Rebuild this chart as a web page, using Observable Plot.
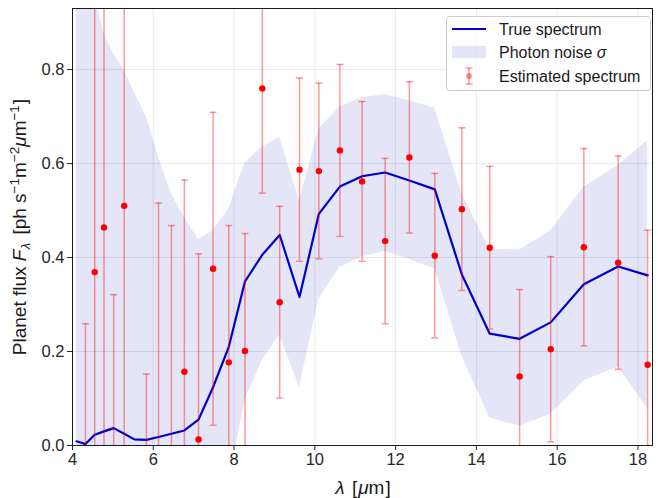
<!DOCTYPE html>
<html><head><meta charset="utf-8">
<script src="https://cdn.jsdelivr.net/npm/d3@7"></script>
<script src="https://cdn.jsdelivr.net/npm/@observablehq/plot@0.6"></script>
<style>body{margin:0;background:#fff}</style>
</head><body><div id="chart"></div>
<script>
// True spectrum and photon-noise band (wavelength grid in µm)
const wavelength = [4.10,4.32,4.55,4.78,5.02,5.28,5.53,5.83,6.13,6.45,6.77,7.12,7.48,7.87,8.27,8.70,9.13,9.62,10.10,10.62,11.17,11.74,12.34,12.97,13.64,14.33,15.07,15.84,16.66,17.51,18.24];
const trueFlux   = [0.009,0.003,0.023,0.030,0.037,0.025,0.013,0.012,0.018,0.025,0.032,0.055,0.124,0.210,0.349,0.406,0.448,0.316,0.493,0.551,0.573,0.581,0.564,0.545,0.364,0.238,0.227,0.262,0.343,0.381,0.362];
const noiseHigh  = [1.10,1.05,0.96,0.876,0.833,0.798,0.752,0.699,0.614,0.535,0.486,0.438,0.457,0.504,0.601,0.635,0.656,0.521,0.674,0.721,0.740,0.747,0.733,0.718,0.535,0.418,0.416,0.457,0.550,0.596,0.649];
const noiseLow   = [-1.08,-1.04,-0.91,-0.82,-0.76,-0.75,-0.73,-0.68,-0.58,-0.49,-0.43,-0.33,-0.21,-0.08,0.097,0.181,0.235,0.124,0.312,0.379,0.401,0.413,0.396,0.376,0.190,0.059,0.041,0.067,0.138,0.167,0.078];

// Estimated spectrum with 1-sigma error bars
const estWavelength = [4.32,4.55,4.78,5.02,5.28,5.83,6.13,6.45,6.77,7.12,7.48,7.87,8.27,8.70,9.13,9.62,10.10,10.62,11.17,11.74,12.34,12.97,13.64,14.33,15.07,15.84,16.66,17.51,18.24];
const estFlux = [-0.25,0.369,0.464,-0.20,0.510,-0.30,-0.05,-0.03,0.157,0.013,0.376,0.177,0.201,0.760,0.305,0.587,0.584,0.628,0.562,0.435,0.613,0.404,0.503,0.421,0.147,0.205,0.422,0.389,0.172];
const estErr  = [0.509,0.80,0.80,0.521,0.75,0.452,0.566,0.498,0.408,0.395,0.333,0.291,0.250,0.223,0.204,0.195,0.187,0.183,0.170,0.176,0.161,0.175,0.173,0.173,0.185,0.197,0.210,0.227,0.286];

const xTicks = [4,6,8,10,12,14,16,18];
const yTicks = [0,0.2,0.4,0.6,0.8];

const spec = wavelength.map((x,i)=>({x, y: trueFlux[i], lo: noiseLow[i], hi: noiseHigh[i]}));
const est = estWavelength.map((x,i)=>({x, y: estFlux[i], lo: estFlux[i]-estErr[i], hi: estFlux[i]+estErr[i]}));

const cap = {draw(ctx, size){ const r = Math.sqrt(size/Math.PI); ctx.moveTo(-r,0); ctx.lineTo(r,0); }};
const errColor = "#ff0000", errOp = 0.4;
const bandColor = "rgb(40,40,200)", bandOp = 0.12;
const ff = "'Liberation Sans', Arial, sans-serif";

const plot = Plot.plot({
  width: 658, height: 498,
  marginLeft: 72, marginRight: 6, marginTop: 8, marginBottom: 53,
  style: {fontFamily: ff, fontSize: "16.5px", color: "#262626", background: "white"},
  x: {domain: [4, 18.36], ticks: xTicks, tickFormat: d => String(d), label: null, tickSize: 5, tickPadding: 3, grid: true},
  y: {domain: [0, 0.93], ticks: yTicks, tickFormat: d => d.toFixed(1), label: null, tickSize: 5, tickPadding: 3, grid: true},
  marks: [
    Plot.areaY(spec, {x: "x", y1: "lo", y2: "hi", fill: bandColor, fillOpacity: bandOp, clip: true}),
    Plot.line(spec, {x: "x", y: "y", stroke: "#0000cd", strokeWidth: 2.2, clip: true}),
    Plot.ruleX(est, {x: "x", y1: "lo", y2: "hi", stroke: errColor, strokeOpacity: errOp, strokeWidth: 1.5, clip: true}),
    Plot.dot(est, {x: "x", y: "hi", symbol: cap, r: 3.5, stroke: errColor, strokeOpacity: errOp, strokeWidth: 1.5, fill: "none", clip: true}),
    Plot.dot(est, {x: "x", y: "lo", symbol: cap, r: 3.5, stroke: errColor, strokeOpacity: errOp, strokeWidth: 1.5, fill: "none", clip: true}),
    Plot.dot(est, {x: "x", y: "y", r: 3.2, fill: "#ff0000", stroke: "none", clip: true}),
    Plot.frame({stroke: "#1a1a1a", strokeWidth: 1})
  ]
});
document.getElementById("chart").appendChild(plot);

const svg = d3.select(plot);
// y label
const yl = svg.append("text").attr("transform", "translate(26,227) rotate(-90)")
  .attr("text-anchor", "middle").attr("font-size", 19).attr("fill", "#1a1a1a").attr("font-family", ff);
yl.append("tspan").text("Planet flux ");
yl.append("tspan").attr("font-style", "italic").text("F");
yl.append("tspan").attr("font-size", 13.5).attr("font-style", "italic").attr("dy", 4).text("λ");
yl.append("tspan").attr("dy", -4).attr("dx", 3).text(" [ph s");
yl.append("tspan").attr("font-size", 13.5).attr("dy", -7).text("−1");
yl.append("tspan").attr("dy", 7).text("m");
yl.append("tspan").attr("font-size", 13.5).attr("dy", -7).text("−2");
yl.append("tspan").attr("dy", 7).attr("font-style", "italic").text("μ");
yl.append("tspan").text("m");
yl.append("tspan").attr("font-size", 13.5).attr("dy", -7).text("−1");
yl.append("tspan").attr("dy", 7).attr("dx", 1).text("]");
// x label
const xl = svg.append("text").attr("x", 363).attr("y", 494).attr("text-anchor", "middle")
  .attr("font-size", 19).attr("fill", "#1a1a1a").attr("font-family", ff);
xl.append("tspan").attr("font-style", "italic").text("λ");
xl.append("tspan").attr("dx", 2).text(" [");
xl.append("tspan").attr("font-style", "italic").attr("dx", 1).text("μ");
xl.append("tspan").text("m");
xl.append("tspan").attr("dx", 1).text("]");

// legend
const lg = svg.append("g").attr("font-family", ff).attr("font-size", 16).attr("fill", "#1a1a1a").attr("text-anchor", "start");
lg.append("rect").attr("x", 446.5).attr("y", 16.5).attr("width", 204).attr("height", 74).attr("rx", 3)
  .attr("fill", "white").attr("fill-opacity", 0.8).attr("stroke", "#cccccc");
lg.append("line").attr("x1", 452).attr("x2", 486).attr("y1", 29).attr("y2", 29).attr("stroke", "#0000cd").attr("stroke-width", 2.2);
lg.append("rect").attr("x", 452).attr("y", 46).attr("width", 34).attr("height", 12).attr("fill", bandColor).attr("fill-opacity", bandOp);
const eg = lg.append("g").attr("stroke", errColor).attr("stroke-opacity", errOp).attr("stroke-width", 1.5);
eg.append("line").attr("x1", 469).attr("x2", 469).attr("y1", 68).attr("y2", 84);
eg.append("line").attr("x1", 465.5).attr("x2", 472.5).attr("y1", 68).attr("y2", 68);
eg.append("line").attr("x1", 465.5).attr("x2", 472.5).attr("y1", 84).attr("y2", 84);
lg.append("circle").attr("cx", 469).attr("cy", 76).attr("r", 3).attr("fill", errColor).attr("fill-opacity", errOp);
lg.append("text").attr("x", 499).attr("y", 35).text("True spectrum");
lg.append("text").attr("x", 499).attr("y", 58).text("Photon noise ").append("tspan").attr("font-style", "italic").text("σ");
lg.append("text").attr("x", 499).attr("y", 82).text("Estimated spectrum");
</script>
</body></html>
